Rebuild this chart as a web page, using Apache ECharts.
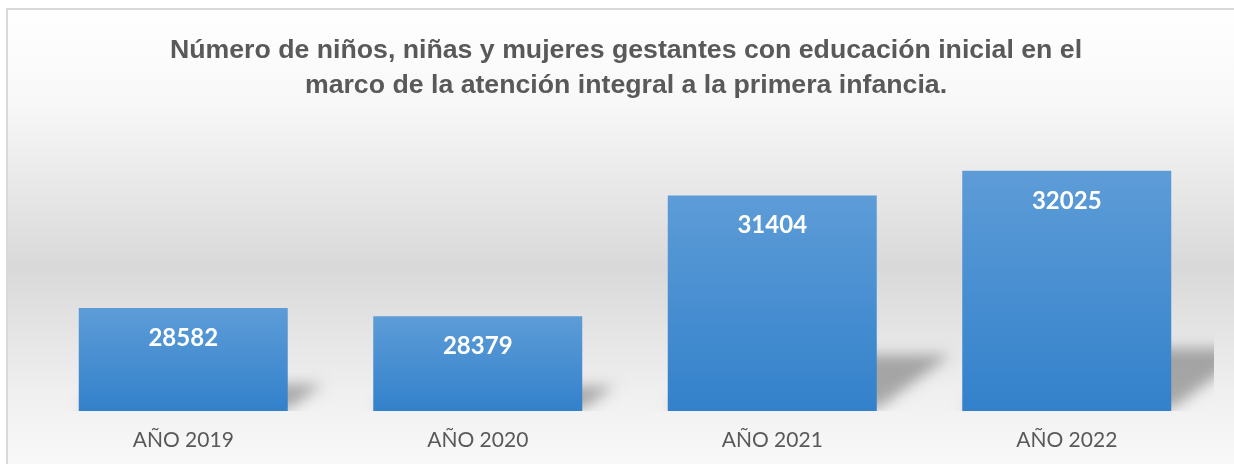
<!DOCTYPE html>
<html>
<head>
<meta charset="utf-8">
<style>
  html, body { margin: 0; padding: 0; background: #fff; }
  #chart { width: 1234px; height: 464px; }
</style>
<script src="https://cdn.jsdelivr.net/npm/echarts@6/dist/echarts.min.js"></script>
</head>
<body>
<div id="chart"></div>
<script>
var titleText = 'Número de niños, niñas y mujeres gestantes con educación inicial en el\nmarco de la atención integral a la primera infancia.';
var years = ['AÑO 2019', 'AÑO 2020', 'AÑO 2021', 'AÑO 2022'];
var totals = [28582, 28379, 31404, 32025];
var axisMin = 26000;
var axisMax = 33000;

var chart = echarts.init(document.getElementById('chart'));

// soft skewed shadow behind the lower part of each bar
// (shape drawn off-screen, only its blurred shadow lands next to the bar)
var SHIFT = 3000;
function renderShadow(params, api) {
    var top = api.coord([api.value(0), api.value(1)]);
    var base = api.coord([api.value(0), axisMin]);
    var half = api.size([1, 0])[0] * 0.355;
    var xr = top[0] + half;
    var xl = top[0] - half;
    var yb = base[1];
    var h = yb - top[1];
    var up = h * 0.26, dx = h * 0.34;
    return {
        type: 'polygon',
        shape: {
            points: [
                [xl - SHIFT, yb - 3],
                [xr + 2 - SHIFT, yb - 3],
                [xr + dx - SHIFT, yb - up],
                [xl + dx - SHIFT, yb - up]
            ]
        },
        style: {
            fill: '#000',
            shadowBlur: 14,
            shadowOffsetX: SHIFT,
            shadowColor: 'rgba(0,0,0,0.3)'
        }
    };
}

var option = {
    backgroundColor: '#fff',
    graphic: [
        {
            type: 'rect',
            z: -10,
            shape: { x: 7, y: 9, width: 1240, height: 470 },
            style: {
                fill: new echarts.graphic.LinearGradient(0, 0, 0, 1, [
                    { offset: 0, color: '#ffffff' },
                    { offset: 0.2, color: '#f8f8f8' },
                    { offset: 0.55, color: '#d9d9d9' },
                    { offset: 0.82, color: '#f0f0f0' },
                    { offset: 1, color: '#fbfbfb' }
                ]),
                stroke: '#d9d9d9',
                lineWidth: 2
            }
        }
    ],
    title: {
        text: titleText,
        left: 626,
        top: 33,
        padding: 0,
        textAlign: 'center',
        textStyle: {
            fontFamily: 'Liberation Sans',
            fontSize: 26.7,
            fontWeight: 'bold',
            color: '#595959',
            lineHeight: 35
        }
    },
    grid: { left: 36, right: 20, top: 132, bottom: 53 },
    xAxis: {
        type: 'category',
        data: years,
        axisLine: { show: false },
        axisTick: { show: false },
        axisLabel: {
            margin: 19,
            fontFamily: 'Lato',
            fontSize: 21,
            color: '#595959'
        }
    },
    yAxis: {
        type: 'value',
        min: axisMin,
        max: axisMax,
        show: false,
        splitLine: { show: false }
    },
    series: [
        {
            type: 'custom',
            data: totals.map(function (v, i) { return [i, v]; }),
            renderItem: renderShadow,
            clip: true,
            silent: true,
            z: 1
        },
        {
            type: 'bar',
            data: totals,
            barWidth: 209,
            z: 2,
            itemStyle: {
                color: new echarts.graphic.LinearGradient(0, 0, 0, 1, [
                    { offset: 0, color: '#5d9cd7' },
                    { offset: 1, color: '#3381cb' }
                ])
            },
            label: {
                show: true,
                position: 'insideTop',
                distance: 18,
                color: '#ffffff',
                fontFamily: 'Lato',
                fontWeight: 'bold',
                fontSize: 24
            }
        }
    ]
};

chart.setOption(option);
</script>
</body>
</html>
